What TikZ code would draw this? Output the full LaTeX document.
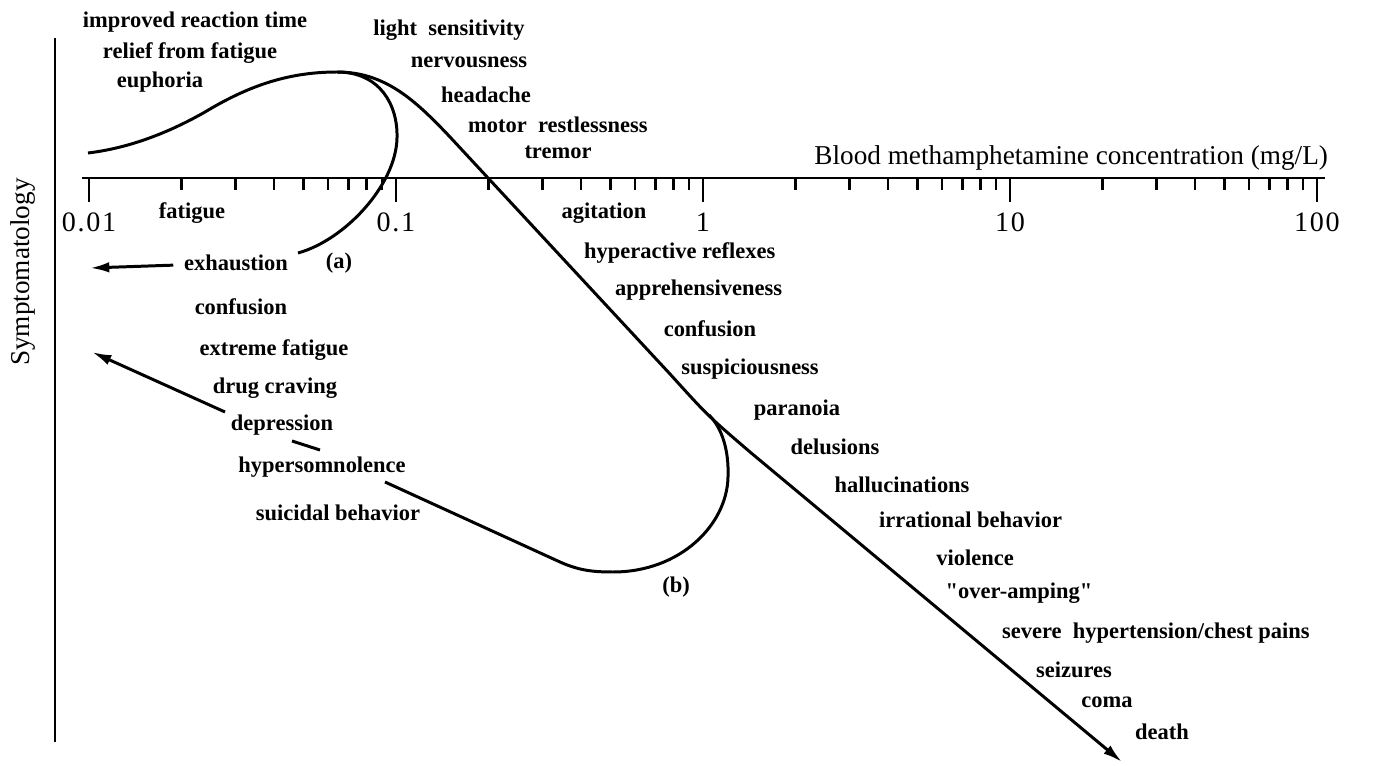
\documentclass[tikz,border=0pt]{standalone}
\usepackage{fontspec}
\setmainfont{Liberation Serif}
\usetikzlibrary{arrows.meta}
\tikzset{
  symp/.style={font=\fontsize{12.8}{15}\selectfont\bfseries, inner sep=1pt},
  axtext/.style={font=\fontsize{15.5}{18}\selectfont, inner sep=1pt},
  ticktext/.style={font=\fontsize{16}{18}\selectfont\addfontfeatures{LetterSpace=6}, inner sep=0pt},
  curve/.style={line width=1.7pt},
  axisline/.style={line width=1.5pt},
  tip/.style={-{Latex[length=11pt,width=6pt]}},
}
\begin{document}
\begin{tikzpicture}[x=0.02cm,y=-0.02cm]
\useasboundingbox (0,0) rectangle (1397,766);

\draw[axisline] (55,38) -- (55,742);
\node[axtext, rotate=90] (ylab) at (23,272) {Symptomatology};

\draw[axisline] (82,178) -- (1325,178);
\foreach \d in {0,...,3}
  \foreach \m in {2,...,9}
    \draw[axisline] ({89+307*(\d+log10(\m))},178) -- ++(0,12);
\foreach \d/\t in {0/0.01,1/0.1,2/1,3/10,4/100} {
  \draw[axisline] ({89+307*\d},178) -- ++(0,24);
  \node[ticktext] (tick\d) at ({89+307*\d},222) {\t};
}
\node[axtext, anchor=east] (xlab) at (1330,158) {Blood methamphetamine concentration (mg/L)};

\node[symp] (improved) at (195,22) {improved reaction time};
\node[symp] (relief) at (190,53) {relief from fatigue};
\node[symp] (euphoria) at (160,82) {euphoria};
\node[symp] (light) at (449,30) {light\ \ sensitivity};
\node[symp] (nervous) at (469,62) {nervousness};
\node[symp] (headache) at (486,95) {headache};
\node[symp, anchor=west] (motor) at (466,125) {motor\ \ restlessness};
\node[symp] (tremor) at (558,152) {tremor};

\node[symp] (fatigue) at (192,213) {fatigue};
\node[symp] (exhaust) at (236,263) {exhaustion};
\node[symp] (loopa) at (339,263) {(a)};
\node[symp] (confA) at (241,307) {confusion};
\node[symp] (extreme) at (274,350) {extreme fatigue};
\node[symp] (craving) at (275,388) {drug craving};
\node[symp] (depress) at (282,425) {depression};
\node[symp] (hypersom) at (322,467) {hypersomnolence};
\node[symp] (suicide) at (338,513) {suicidal behavior};
\node[symp] (loopb) at (676,587) {(b)};

\node[symp] (agitation) at (604,213) {agitation};
\node[symp, anchor=west] (reflex) at (582,253) {hyperactive reflexes};
\node[symp, anchor=west] (apprehen) at (613,290) {apprehensiveness};
\node[symp] (confB) at (710,329) {confusion};
\node[symp] (suspic) at (750,369) {suspiciousness};
\node[symp] (paranoia) at (797,410) {paranoia};
\node[symp] (delusion) at (835,447) {delusions};
\node[symp] (halluc) at (902,485) {hallucinations};
\node[symp, anchor=west] (irrat) at (877,520) {irrational behavior};
\node[symp] (violence) at (975,558) {violence};
\node[symp] (overamp) at (1019,593) {{\addfontfeatures{Ligatures=TeXOff}"over-amping"}};
\node[symp, anchor=west] (hypert) at (1000,633) {severe\ \ hypertension/chest pains};
\node[symp] (seizure) at (1074,670) {seizures};
\node[symp] (coma) at (1107,702) {coma};
\node[symp] (death) at (1162,732) {death};

\coordinate (start) at (88,153);
\coordinate (peak) at (337,72);
\coordinate (fork) at (709,415);
\coordinate (end) at (1122,762);
\draw[curve, tip] (start) .. controls (130,148) and (170,132) .. (205,112)
  .. controls (245,88) and (285,72) .. (peak)
  .. controls (385,72) and (415,100) .. (450,137) -- (670,374)
  .. controls (708,416) .. (750,452) -- (end);

\draw[curve] (peak) .. controls (380,72) and (398,105) .. (397,138)
  .. controls (396,185) and (345,240) .. (298,253);
\coordinate (leftA) at (90,268);
\draw[curve, tip, shorten <=5pt] (exhaust) -- (leftA);

\coordinate (loopR) at (728,477);
\coordinate (loopL) at (560,562);
\draw[curve] (fork) .. controls (722,428) and (729,450) .. (loopR)
  .. controls (727,525) and (680,572) .. (613,572)
  .. controls (595,572) and (580,571) .. (loopL) -- (385,482);
\draw[curve] (320,450) -- (292,441);
\coordinate (leftB) at (92,352);
\draw[curve, tip] (225,412) -- (leftB);
\end{tikzpicture}
\end{document}
